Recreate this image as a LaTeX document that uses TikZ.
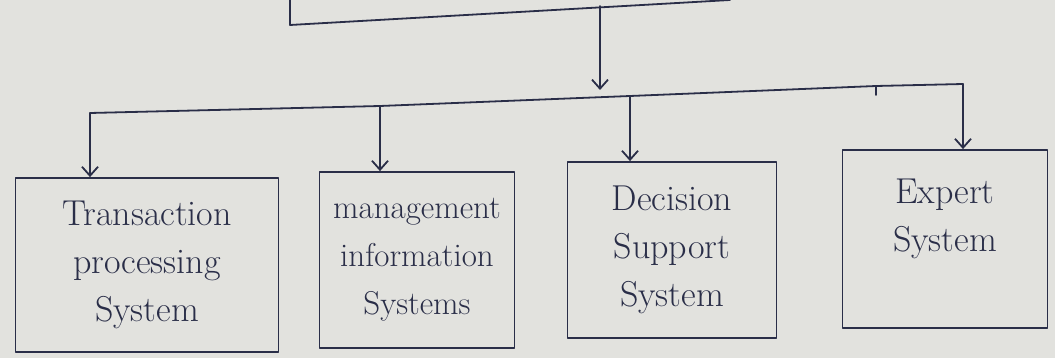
\documentclass[tikz,border=0pt]{standalone}
\usetikzlibrary{arrows.meta}
\definecolor{paper}{RGB}{226,226,222}
\definecolor{ink}{RGB}{42,46,72}
\begin{document}
\begin{tikzpicture}[x=1pt,y=-1pt,
  ink/.style={draw=ink,line width=1.8pt,line cap=round,line join=round},
  sysbox/.style={ink,rectangle,inner sep=0pt,align=center,text=ink,
    font=\fontsize{36}{48}\selectfont},
  arr/.style={ink,-{Straight Barb[length=9pt,width=16pt,line width=1.8pt]}}]
\fill[paper] (0,0) rectangle (1055,358);
\useasboundingbox (0,0) rectangle (1055,358);
% partial top box
\coordinate (t1) at (290,0);
\coordinate (t2) at (290,25);
\coordinate (t3) at (730,0);
\draw[ink] (t1) -- (t2) -- (t3);
\coordinate (src) at (600,6);
\coordinate (srcend) at (600,90);
\draw[arr] (src) -- (srcend);
% bus
\coordinate (a1) at (90,113);
\coordinate (a2) at (380,106);
\coordinate (a3) at (630,96);
\coordinate (a4) at (963,84);
\coordinate (tick) at (876,86);
\draw[ink] (a1) -- (a2) -- (a3) -- (tick) -- (a4);
\draw[ink] (tick) -- (876,95);
% boxes
\node[sysbox,minimum width=263pt,minimum height=174pt] (b1) at (147,265)
  {Transaction\\processing\\System};
\node[sysbox,minimum width=195pt,minimum height=176pt,font=\fontsize{33}{48}\selectfont] (b2) at (417,260)
  {management\\information\\Systems};
\node[sysbox,minimum width=209pt,minimum height=176pt] (b3) at (672,250)
  {Decision\\Support\\System};
\node[sysbox,minimum width=205pt,minimum height=178pt] (b4) at (945,239)
  {Expert\\System\\~};
% arrows
\draw[arr] (a1) -- (a1 |- b1.north);
\draw[arr] (a2) -- (a2 |- b2.north);
\draw[arr] (a3) -- (a3 |- b3.north);
\draw[arr] (a4) -- (a4 |- b4.north);
\end{tikzpicture}
\end{document}
